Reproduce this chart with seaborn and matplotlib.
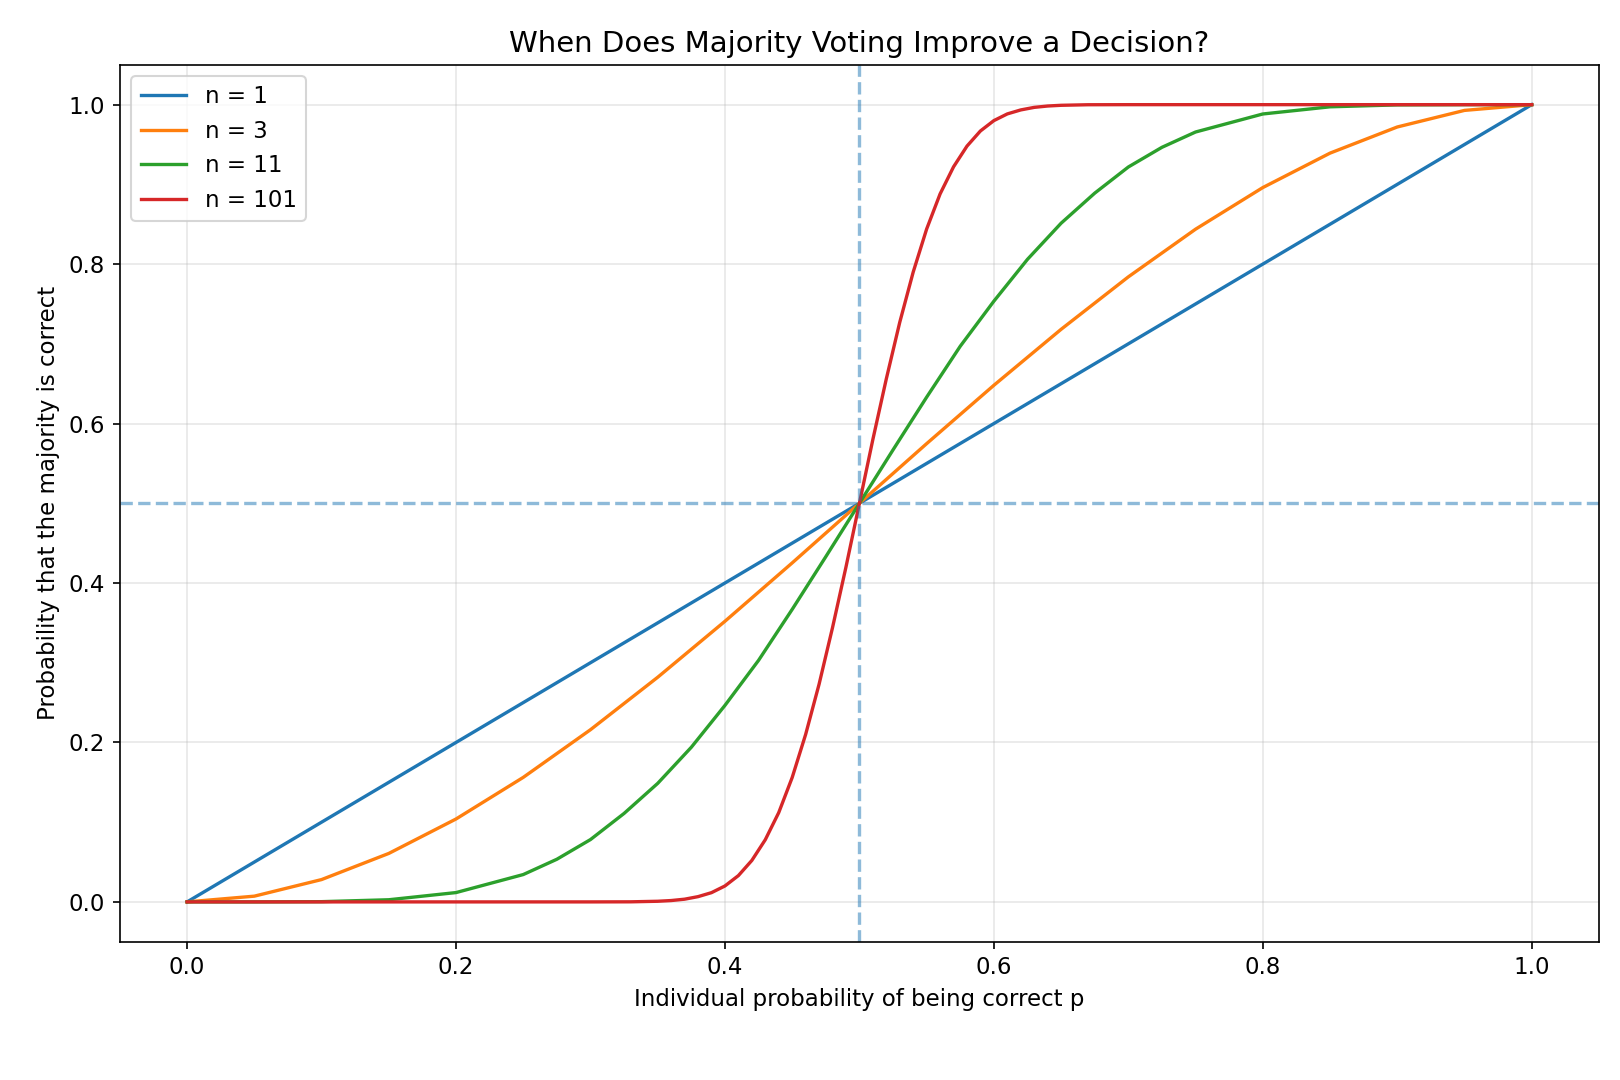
import matplotlib
matplotlib.use("Agg")
import matplotlib.pyplot as plt
import seaborn as sns
import pandas as pd

plt.rcParams["font.size"] = 11

p1 = [0.0, 1.0]
v1 = [0.0, 1.0]

p3 = [0, .05, .1, .15, .2, .25, .3, .35, .4, .45, .5, .55, .6, .65, .7, .75, .8, .85, .9, .95, 1]
v3 = [0, .0072, .028, .0608, .104, .1562, .216, .2818, .352, .4252, .5, .5748, .648, .7182, .784,
      .8438, .896, .9392, .972, .9928, 1]

p11 = [0, .05, .1, .15, .2, .25, .275, .3, .325, .35, .375, .4, .425, .45, .475, .5, .525, .55, .575,
       .6, .625, .65, .675, .7, .725, .75, .8, .85, .9, .95, 1]
v11 = [0, 0.0, 0.0003, 0.0027, 0.0117, 0.0343, 0.0535, 0.0782, 0.111, 0.1487, 0.194, 0.2465, 0.303,
       0.3669, 0.433, 0.5, 0.567, 0.6331, 0.697, 0.7535, 0.806, 0.8513, 0.889, 0.9218, 0.9465, 0.9657,
       0.9883, 0.9973, 0.9997, 1.0, 1.0]

p101 = [0, .1, .2, .3, .33, .35, .36, .37, .38, .39, .40, .41, .42, .43, .44, .45, .46, .47, .48, .49,
        .50, .51, .52, .53, .54, .55, .56, .57, .58, .59, .60, .61, .62, .63, .64, .65, .67, .7, .8, .9, 1]
v101 = [0, 0, 0, 0, 0.0001, 0.0008, 0.0017, 0.0034, 0.0066, 0.0116, 0.020, 0.033, 0.052, 0.078, 0.112,
        0.156, 0.210, 0.273, 0.344, 0.420, 0.5, 0.580, 0.656, 0.727, 0.790, 0.844, 0.888, 0.922, 0.948,
        0.967, 0.980, 0.9884, 0.9934, 0.9966, 0.9983, 0.9992, 0.9999, 1, 1, 1, 1]

series = [("n = 1", p1, v1), ("n = 3", p3, v3), ("n = 11", p11, v11), ("n = 101", p101, v101)]
rows = []
for name, ps, vs in series:
    for p, v in zip(ps, vs):
        rows.append({"p": p, "v": v, "n": name})
df = pd.DataFrame(rows)

fig, ax = plt.subplots(figsize=(10.8, 7.2), dpi=150)
sns.lineplot(data=df, x="p", y="v", hue="n", palette=["C0", "C1", "C2", "C3"],
             sort=False, estimator=None, linewidth=1.6, ax=ax)
ax.axhline(0.5, color="C0", linestyle="--", alpha=0.5, linewidth=1.6)
ax.axvline(0.5, color="C0", linestyle="--", alpha=0.5, linewidth=1.6)
ax.grid(True, alpha=0.3)
ax.set_xlabel("Individual probability of being correct p")
ax.set_ylabel("Probability that the majority is correct")
ax.set_title("When Does Majority Voting Improve a Decision?", fontsize=14)
ax.legend(loc="upper left", fontsize=11)
fig.subplots_adjust(left=0.074, right=0.987, top=0.94, bottom=0.128)
fig.savefig("out.png", dpi=150)
